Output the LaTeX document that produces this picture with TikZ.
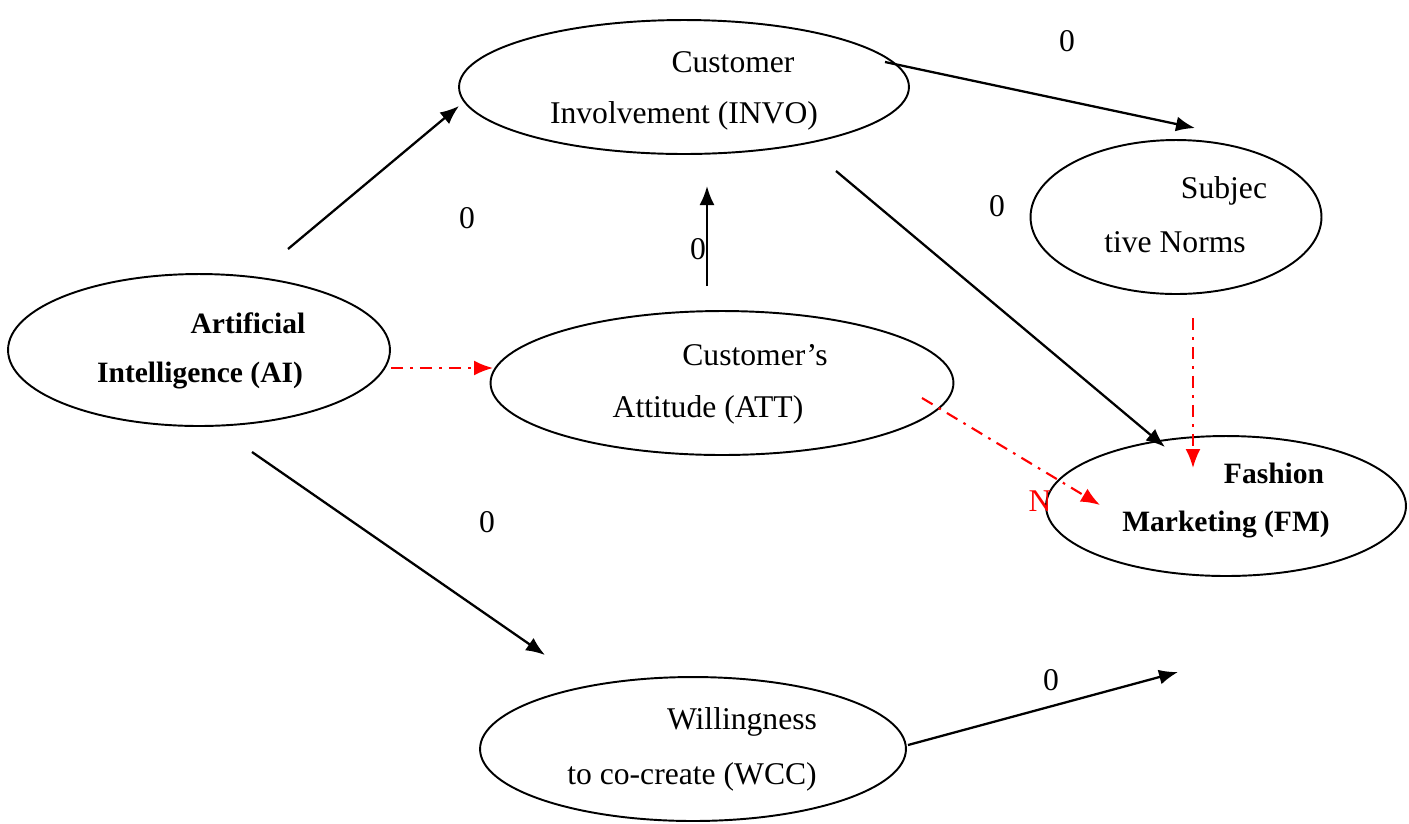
\documentclass[tikz,border=0pt]{standalone}
\usepackage{fontspec}
\setmainfont{Liberation Serif}
\usetikzlibrary{shapes.geometric}
\usetikzlibrary{arrows.meta,positioning}

\begin{document}
\begin{tikzpicture}[x=0.02cm, y=-0.02cm, line width=1.3pt,
  font=\fontsize{18}{22}\selectfont,
  >={Latex[length=3.8mm,width=3mm]}]
\useasboundingbox (0,0) rectangle (1409,823);
\tikzstyle{boldtext}=[font=\fontsize{16.8}{20}\selectfont\bfseries]
\tikzstyle{redpath}=[->,red,line width=1.2pt,dash pattern=on 7pt off 4pt on 1.5pt off 4pt]
\begin{scope}[shape=ellipse,inner sep=0pt]
\tikzstyle{every node}=[draw,line width=1.1pt] %%
\node[minimum width=9cm,minimum height=2.68cm] (invo) at (684,87) {}; %%
\node[minimum width=5.82cm,minimum height=3.08cm] (sn) at (1176,217) {}; %%
\node[minimum width=7.64cm,minimum height=3.04cm] (ai) at (199,350) {}; %%
\node[minimum width=9.26cm,minimum height=2.88cm] (att) at (722,383) {}; %%
\node[minimum width=7.2cm,minimum height=2.8cm] (fm) at (1226,506) {}; %%
\node[minimum width=8.52cm,minimum height=2.88cm] (wcc) at (693,749) {};
\end{scope}
% texts
\node (invo1) at (733,62) {Customer}; %%
\node (invo2) at (684,116) {Involvement (INVO)}; %%
\node (sn1) at (1224,191) {Subjec}; %%
\node (sn2) at (1175,242) {tive Norms}; %%
\node[boldtext] (ai1) at (248,323) {Artificial}; %%
\node[boldtext] (ai2) at (200,376) {Intelligence (AI)}; %%
\node (att1) at (755,355) {Customer’s}; %%
\node (att2) at (708,410) {Attitude (ATT)}; %%
\node[boldtext] (fm1) at (1274,473) {Fashion}; %%
\node[boldtext] (fm2) at (1226,525) {Marketing (FM)}; %%
\node (wcc1) at (742,722) {Willingness}; %%
\node (wcc2) at (692,777) {to co-create (WCC)};
% path labels
\node (l1) at (1067,41) {0}; %%
\node (l2) at (467,218) {0}; %%
\node (l3) at (698,249) {0}; %%
\node (l4) at (997,206) {0}; %%
\node (l5) at (487,522) {0}; %%
\node (l6) at (1051,680) {0}; %%
\node[red] (l7) at (1040,501) {N};
% arrow ends
\coordinate (a1) at (288,249); \coordinate (b1) at (459,106);
\coordinate (a2) at (707,286); \coordinate (b2) at (707,186);
\coordinate (a3) at (885,62);  \coordinate (b3) at (1195,128);
\coordinate (a4) at (836,171); \coordinate (b4) at (1165,447);
\coordinate (a5) at (391,368); \coordinate (b5) at (493,368);
\coordinate (a6) at (922,398); \coordinate (b6) at (1100,505);
\coordinate (a7) at (1193,318); \coordinate (b7) at (1193,468);
\coordinate (a8) at (252,452); \coordinate (b8) at (545,655);
\coordinate (a9) at (908,745); \coordinate (b9) at (1178,672);
\draw[->] (a1)--(b1); %%
\draw[->] (a2)--(b2); %%
\draw[->] (a3)--(b3); %%
\draw[->] (a4)--(b4); %%
\draw[->] (a8)--(b8); %%
\draw[->] (a9)--(b9); %%
\draw[redpath] (a5)--(b5); %%
\draw[redpath] (a6)--(b6); %%
\draw[redpath] (a7)--(b7); %%
\end{tikzpicture}
\end{document}
